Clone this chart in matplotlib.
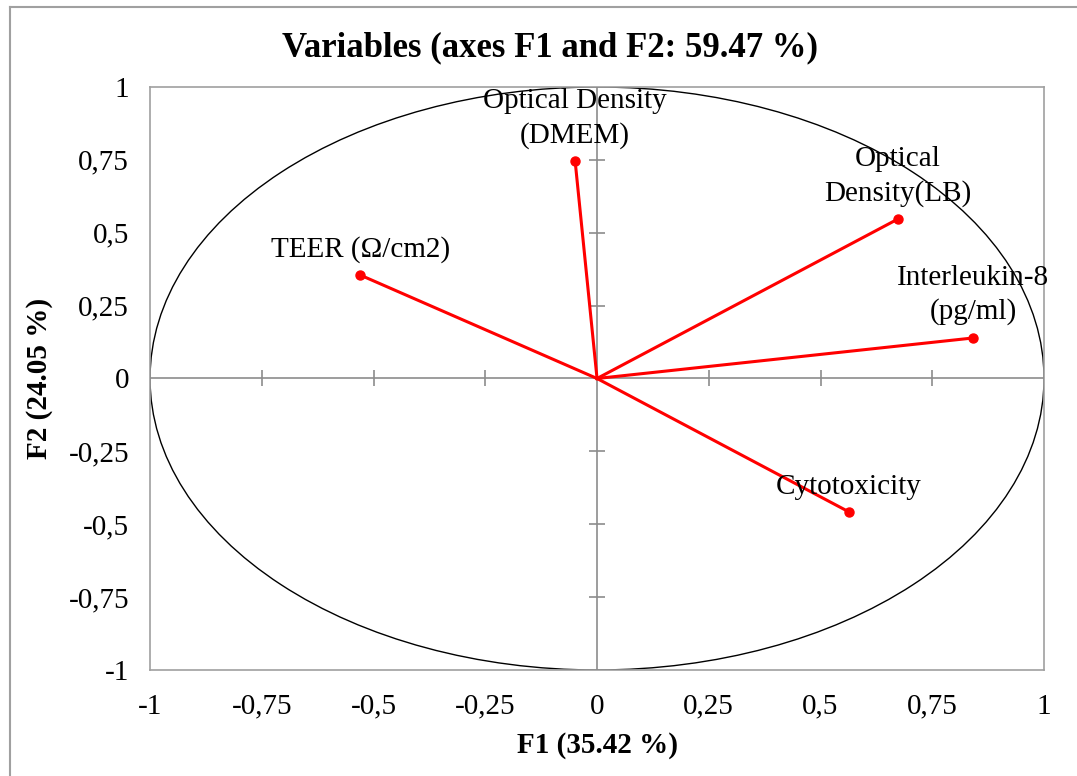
import numpy as np
import matplotlib
matplotlib.use("Agg")
import matplotlib.pyplot as plt
from matplotlib.patches import Circle
from matplotlib.lines import Line2D

matplotlib.rc('font', family='serif')
matplotlib.rc('font', serif=['Liberation Serif', 'DejaVu Serif'])

# variable loadings on F1 / F2
VARIABLES = ["Optical Density\n(DMEM)",
             "Optical\nDensity(LB)",
             "TEER (\u03a9/cm2)",
             "Interleukin-8\n(pg/ml)",
             "Cytotoxicity"]
F1 = [-0.049, 0.673, -0.530, 0.841, 0.564]
F2 = [0.746, 0.547, 0.355, 0.139, -0.458]

TICKS = [-1, -0.75, -0.5, -0.25, 0, 0.25, 0.5, 0.75, 1]
TICK_LABELS = ["-1", "-0,75", "-0,5", "-0,25", "0", "0,25", "0,5", "0,75", "1"]

TITLE = "Variables (axes F1 and F2: 59.47 %)"
XLABEL = "F1 (35.42 %)"
YLABEL = "F2 (24.05 %)"

fig = plt.figure(figsize=(10.77, 7.76), dpi=100)
ax = fig.add_axes([0.1393, 0.1366, 0.8301, 0.7513])

ax.set_xlim(-1, 1)
ax.set_ylim(-1, 1)

for sp in ax.spines.values():
    sp.set_color("#a0a0a0")
    sp.set_linewidth(1.2)

ax.set_xticks(TICKS)
ax.set_xticklabels(TICK_LABELS, fontsize=21)
ax.set_yticks(TICKS)
ax.set_yticklabels(TICK_LABELS, fontsize=21)
ax.tick_params(axis='x', length=0, pad=17)
ax.tick_params(axis='y', length=0, pad=15)

# centre axes with crossing ticks
ax.axhline(0, color="#8c8c8c", linewidth=1.2, zorder=1)
ax.axvline(0, color="#8c8c8c", linewidth=1.2, zorder=1)
inner = [t for t in TICKS if t not in (-1, 0, 1)]
ax.plot(inner, [0] * len(inner), linestyle="none", marker="|", markersize=12,
        markeredgewidth=1.2, color="#8c8c8c", zorder=1)
ax.plot([0] * len(inner), inner, linestyle="none", marker="_", markersize=12,
        markeredgewidth=1.2, color="#8c8c8c", zorder=1)

ax.add_patch(Circle((0, 0), 1, fill=False, edgecolor="black", linewidth=1.0, zorder=2))

for name, x, y in zip(VARIABLES, F1, F2):
    ax.plot([0, x], [0, y], color="#ff0000", linewidth=2.2, zorder=3)
    ax.plot(x, y, "o", color="#ff0000", markersize=6.5, zorder=4)
    ax.annotate(name, (x, y), xytext=(0, 9), textcoords="offset points",
                ha="center", va="bottom", fontsize=21, linespacing=1.35, zorder=5)

fig.text(550 / 1077, 1 - 48 / 776, TITLE, fontsize=25, fontweight="bold",
         ha="center", va="center")
ax.set_xlabel(XLABEL, fontsize=21, fontweight="bold", labelpad=9)
ax.set_ylabel(YLABEL, fontsize=21, fontweight="bold", labelpad=11)

# outer chart border (left and top only visible)
fig.add_artist(Line2D([10 / 1077, 10 / 1077], [0, 1 - 7 / 776], color="#a0a0a0", linewidth=1.5))
fig.add_artist(Line2D([10 / 1077, 1], [1 - 7 / 776, 1 - 7 / 776], color="#a0a0a0", linewidth=1.5))

fig.savefig("out.png", dpi=100)
plt.close()
